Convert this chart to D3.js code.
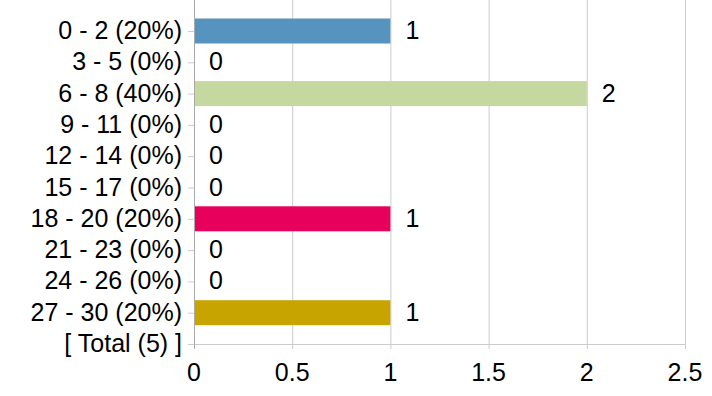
<!DOCTYPE html>
<html>
<head>
<meta charset="utf-8">
<script src="https://cdn.jsdelivr.net/npm/d3@7"></script>
<style>
    body { margin: 0; background: #fff; }
    text { font-family: "Liberation Sans", Arial, sans-serif; fill: #000; }
</style>
</head>
<body>
<svg id="chart" width="712" height="396"></svg>
<script>
(function (d3) {
    'use strict';

    var categories = ['0 - 2 (20%)', '3 - 5 (0%)', '6 - 8 (40%)', '9 - 11 (0%)', '12 - 14 (0%)',
            '15 - 17 (0%)', '18 - 20 (20%)', '21 - 23 (0%)', '24 - 26 (0%)', '27 - 30 (20%)', '[ Total (5) ]'],
        counts = [1, 0, 2, 0, 0, 0, 1, 0, 0, 1],
        barColors = ['#5793bf', null, '#c5d89f', null, null, null, '#e8005d', null, null, '#c8a400'],
        xTicks = [0, 0.5, 1, 1.5, 2, 2.5],
        FONT_SIZE = 25,
        BAR_HEIGHT = 25,
        svg = d3.select('#chart'),
        x = d3.scaleLinear().domain([0, 2.5]).range([194, 685]),
        y = d3.scalePoint().domain(categories).range([31, 344]),
        rows;

    // vertical grid lines
    svg.append('g')
        .selectAll('line')
        .data(xTicks.slice(1))
        .enter().append('line')
        .attr('x1', function (d) { return x(d) + 0.5; })
        .attr('x2', function (d) { return x(d) + 0.5; })
        .attr('y1', 0)
        .attr('y2', 349)
        .attr('stroke', '#cccccc');

    // bottom axis line
    svg.append('line')
        .attr('x1', x(0)).attr('x2', x(2.5) + 1)
        .attr('y1', y('[ Total (5) ]') + 0.5).attr('y2', y('[ Total (5) ]') + 0.5)
        .attr('stroke', '#cccccc');

    // bars
    rows = categories.slice(0, counts.length).map(function (c, i) {
        return { name: c, value: counts[i], color: barColors[i] };
    });

    svg.append('g')
        .selectAll('rect')
        .data(rows.filter(function (d) { return d.value > 0; }))
        .enter().append('rect')
        .attr('x', x(0))
        .attr('y', function (d) { return y(d.name) - BAR_HEIGHT / 2; })
        .attr('width', function (d) { return x(d.value) - x(0); })
        .attr('height', BAR_HEIGHT)
        .attr('fill', function (d) { return d.color; });

    // value labels
    svg.append('g')
        .selectAll('text')
        .data(rows)
        .enter().append('text')
        .attr('x', function (d) { return x(d.value) + 15; })
        .attr('y', function (d) { return y(d.name); })
        .attr('dy', '0.32em')
        .style('font-size', FONT_SIZE + 'px')
        .text(function (d) { return d.value; });

    // left axis
    var left = svg.append('g');
    left.append('line')
        .attr('x1', x(0) + 0.5).attr('x2', x(0) + 0.5)
        .attr('y1', 0).attr('y2', 349)
        .attr('stroke', '#aaaaaa');
    left.selectAll('line.tick')
        .data(categories)
        .enter().append('line')
        .attr('class', 'tick')
        .attr('x1', x(0) - 6).attr('x2', x(0))
        .attr('y1', function (d) { return y(d) + 0.5; })
        .attr('y2', function (d) { return y(d) + 0.5; })
        .attr('stroke', '#cccccc');
    left.selectAll('text')
        .data(categories)
        .enter().append('text')
        .attr('x', 182)
        .attr('y', function (d) { return y(d); })
        .attr('dy', '0.32em')
        .attr('text-anchor', 'end')
        .style('font-size', FONT_SIZE + 'px')
        .text(function (d) { return d; });

    // bottom tick labels
    svg.append('g')
        .selectAll('text')
        .data(xTicks)
        .enter().append('text')
        .attr('x', function (d) { return x(d); })
        .attr('y', 381)
        .attr('text-anchor', 'middle')
        .style('font-size', FONT_SIZE + 'px')
        .text(function (d) { return d; });
}(window.d3));
</script>
</body>
</html>
